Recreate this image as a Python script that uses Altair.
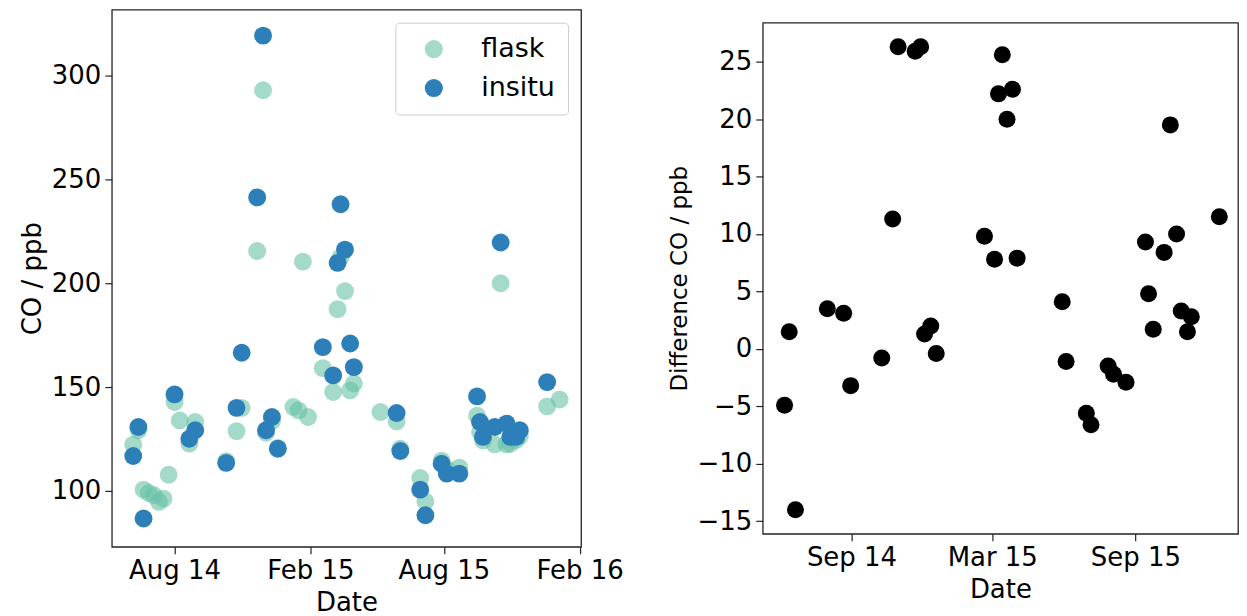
import altair as alt
import pandas as pd

# ---- data ----
insitu_dates = ["2014-06-06", "2014-06-13", "2014-06-20", "2014-08-01", "2014-08-21", "2014-08-29",
                "2014-10-10", "2014-10-24", "2014-10-31", "2014-11-21", "2014-11-29", "2014-12-03",
                "2014-12-11", "2014-12-19", "2015-02-18", "2015-03-04", "2015-03-10", "2015-03-14",
                "2015-03-20", "2015-03-27", "2015-04-01", "2015-05-29", "2015-06-03", "2015-06-30",
                "2015-07-07", "2015-07-29", "2015-08-05", "2015-08-22", "2015-09-15", "2015-09-19",
                "2015-09-23", "2015-10-09", "2015-10-17", "2015-10-25", "2015-10-30", "2015-11-07",
                "2015-11-12", "2015-12-19"]
insitu_values = [116.8, 130.8, 86.7, 146.5, 125.1, 129.2,
                 113.5, 140.0, 166.5, 241.3, 319.2, 129.2,
                 135.6, 120.3, 169.2, 155.6, 209.8, 238.0,
                 216.2, 171.0, 159.6, 137.5, 119.2, 100.6,
                 88.3, 113.1, 108.3, 108.3, 145.5, 133.2,
                 126.0, 130.8, 219.6, 132.4, 126.0, 126.0,
                 129.2, 152.4]

flask_dates = ["2014-06-06", "2014-06-13", "2014-06-20", "2014-06-27", "2014-07-04", "2014-07-11",
               "2014-07-17", "2014-07-24", "2014-08-01", "2014-08-08", "2014-08-21", "2014-08-29",
               "2014-10-10", "2014-10-24", "2014-10-31", "2014-11-21", "2014-11-29", "2014-12-03",
               "2014-12-11", "2014-12-19", "2015-01-09", "2015-01-16", "2015-01-22", "2015-01-29",
               "2015-02-18", "2015-03-04", "2015-03-10", "2015-03-14", "2015-03-20", "2015-03-27",
               "2015-04-01", "2015-05-07", "2015-05-29", "2015-06-03", "2015-06-30", "2015-07-07",
               "2015-07-29", "2015-08-05", "2015-08-22", "2015-09-15", "2015-09-19", "2015-09-23",
               "2015-10-09", "2015-10-17", "2015-10-25", "2015-10-30", "2015-11-07", "2015-11-12",
               "2015-12-19", "2016-01-05"]
flask_values = [122.3, 129.3, 100.6, 99.0, 97.9, 94.7,
                96.3, 107.8, 142.8, 133.9, 122.8, 133.2,
                114.3, 128.8, 140.0, 215.5, 292.9, 128.0,
                133.6, 120.7, 140.4, 138.8, 210.4, 135.6,
                159.1, 147.6, 187.5, 212.4, 196.2, 148.4,
                151.7, 138.0, 133.4, 120.3, 106.2, 94.9,
                114.6, 110.5, 111.2, 136.2, 128.4, 124.3,
                122.4, 200.0, 122.4, 122.7, 124.5, 126.4,
                140.7, 144.0]

diff_dates = ["2014-06-07", "2014-06-13", "2014-06-21", "2014-08-01", "2014-08-22", "2014-08-31",
              "2014-10-10", "2014-10-24", "2014-10-31", "2014-11-22", "2014-11-29", "2014-12-04",
              "2014-12-12", "2014-12-19", "2015-02-19", "2015-03-04", "2015-03-09", "2015-03-14",
              "2015-03-20", "2015-03-27", "2015-04-02", "2015-05-30", "2015-06-04", "2015-06-30",
              "2015-07-06", "2015-07-28", "2015-08-04", "2015-08-20", "2015-09-14", "2015-09-18",
              "2015-09-24", "2015-10-08", "2015-10-16", "2015-10-24", "2015-10-30", "2015-11-07",
              "2015-11-12", "2015-12-18"]
diff_values = [-4.9, 1.5, -14.0, 3.5, 3.1, -3.2,
               -0.8, 11.3, 26.3, 25.9, 26.3, 1.3,
               2.0, -0.4, 9.8, 7.8, 22.2, 25.6,
               20.0, 22.6, 7.9, 4.1, -1.1, -5.6,
               -6.6, -1.5, -2.2, -2.9, 9.3, 4.8,
               1.7, 8.4, 19.5, 10.0, 3.3, 1.5,
               2.8, 11.5]

series_names = ["flask", "insitu"]
series_colors = ["rgba(102,194,165,0.6)", "#2c7fb8"]

left_ticks = [(2014, 8), (2015, 2), (2015, 8), (2016, 2)]
right_ticks = [(2014, 9), (2015, 3), (2015, 9)]

# ---- tables ----
df_left = pd.concat([
    pd.DataFrame({"date": flask_dates, "co": flask_values, "series": "flask"}),
    pd.DataFrame({"date": insitu_dates, "co": insitu_values, "series": "insitu"}),
], ignore_index=True)
df_right = pd.DataFrame({"date": diff_dates, "diff": diff_values})

FONT = "DejaVu Sans"
DATE_LABEL = "utcFormat(datum.value, '%b %y')"


def dt(y, m, d=1):
    return alt.DateTime(year=y, month=m, date=d, utc=True)


left = alt.Chart(df_left).mark_circle(size=320, opacity=1).encode(
    x=alt.X("date:T",
            scale=alt.Scale(type="utc", domain=[dt(2014, 5, 8), dt(2016, 2, 3)]),
            axis=alt.Axis(title="Date", values=[dt(y, m) for y, m in left_ticks],
                          labelExpr=DATE_LABEL, labelOverlap=False, labelFlush=False)),
    y=alt.Y("co:Q",
            scale=alt.Scale(domain=[73.1, 331.7], nice=False, zero=False),
            axis=alt.Axis(title="CO / ppb", values=[100, 150, 200, 250, 300])),
    color=alt.Color("series:N",
                    scale=alt.Scale(domain=series_names, range=series_colors),
                    legend=alt.Legend(title=None, orient="top-right", offset=13,
                                      padding=13, symbolOffset=12, labelOffset=34,
                                      rowPadding=11, symbolSize=330, symbolType="circle",
                                      symbolOpacity=1,
                                      labelFontSize=27, labelFont=FONT, labelColor="black",
                                      strokeColor="#cccccc", cornerRadius=4,
                                      fillColor="white")),
).properties(width=470, height=538)

right = alt.Chart(df_right).mark_circle(size=290, color="black", opacity=1).encode(
    x=alt.X("date:T",
            scale=alt.Scale(type="utc", domain=[dt(2014, 5, 10), dt(2016, 1, 11)]),
            axis=alt.Axis(title="Date", values=[dt(y, m) for y, m in right_ticks],
                          labelExpr=DATE_LABEL, labelOverlap=False)),
    y=alt.Y("diff:Q",
            scale=alt.Scale(domain=[-16.1, 28.4], nice=False, zero=False),
            axis=alt.Axis(title="Difference CO / ppb", titleFontSize=23,
                          values=[-15, -10, -5, 0, 5, 10, 15, 20, 25])),
).properties(width=476, height=512)

chart = alt.hconcat(left, right, spacing=43, center=True).resolve_legend(
    color="independent"
).resolve_scale(color="independent").properties(
    padding={"left": 10, "top": 0, "right": 0, "bottom": 0}
).configure_view(
    stroke="#222222", strokeWidth=1.3
).configure_axis(
    grid=False, domain=False, ticks=True, tickSize=7, tickColor="#222222", tickWidth=1.2,
    labelFont=FONT, labelFontSize=26, labelColor="black", labelPadding=4,
    titleFont=FONT, titleFontSize=26, titleColor="black", titleFontWeight="normal",
    titlePadding=6
)

chart.save("out.html", embed_options={"renderer": "svg", "actions": False})
